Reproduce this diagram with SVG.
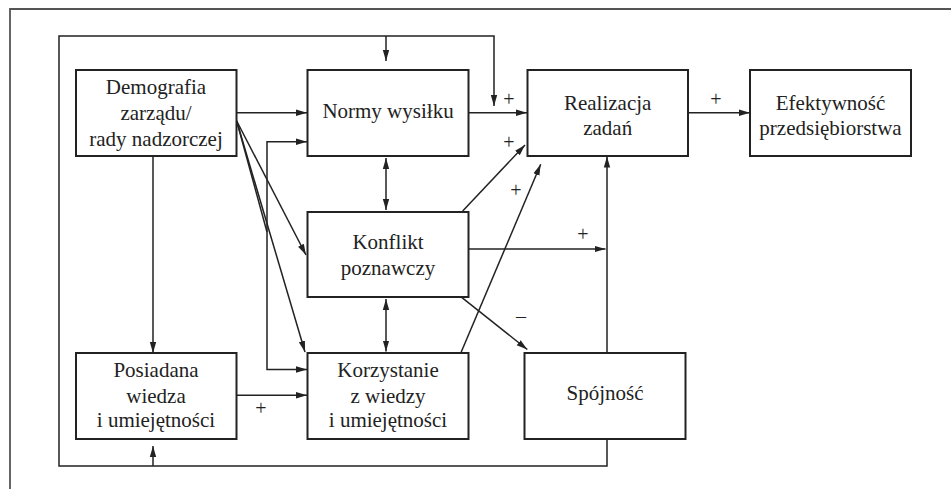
<svg xmlns="http://www.w3.org/2000/svg" width="951" height="489" viewBox="0 0 951 489">
<style>
.box{fill:#fff;stroke:#222;stroke-width:2}
.t{font-family:"Liberation Serif","DejaVu Serif",serif;font-size:21px;fill:#222;text-anchor:middle}
.s{font-family:"Liberation Serif","DejaVu Serif",serif;font-size:20px;fill:#222;text-anchor:middle}
.c{fill:none;stroke:#222;stroke-width:1.5}
.a{marker-end:url(#ah)}
.b{marker-start:url(#ahs);marker-end:url(#ah)}
</style>
<defs>
<marker id="ah" markerUnits="userSpaceOnUse" markerWidth="12" markerHeight="8" refX="11" refY="4" orient="auto">
<path d="M0,0.8 L11,4 L0,7.2 Z" fill="#222"/>
</marker>
<marker id="ahs" markerUnits="userSpaceOnUse" markerWidth="12" markerHeight="8" refX="0" refY="4" orient="auto">
<path d="M11,0.8 L0,4 L11,7.2 Z" fill="#222"/>
</marker>
</defs>
<rect width="951" height="489" fill="#fff"/>
<path d="M10,489 V9 H951" fill="none" stroke="#555" stroke-width="1.8"/>
<g id="connectors">
<path class="c a" d="M607,439 V466 H59 V36 H494 V106"/>
<path class="c a" d="M386,36 V61"/>
<path class="c a" d="M153,466 V446"/>
<path class="c a" d="M236,112.7 H307"/>
<path class="c a" d="M153,156 V353"/>
<path class="c a" d="M236.7,121 L306,255"/>
<path class="c a" d="M236.7,121 L305,352"/>
<path class="c" d="M236.7,121 L267,232"/>
<path class="c b" d="M307,141.7 H267 V369.5 H307"/>
<path class="c b" d="M386,158 V210"/>
<path class="c b" d="M386,299 V351.5"/>
<path class="c a" d="M468,112.7 H527"/>
<path class="c a" d="M688,112.7 H750"/>
<path class="c a" d="M462.7,211 L525,145"/>
<path class="c a" d="M460.7,353.3 L540.7,164.3"/>
<path class="c a" d="M468,249 H605.5"/>
<path class="c a" d="M461.7,297.3 L527.3,349.5"/>
<path class="c a" d="M607,353 V156.5"/>
<path class="c a" d="M236,395.3 H307"/>
<text class="s" x="509" y="106">+</text>
<text class="s" x="716" y="106">+</text>
<text class="s" x="509" y="149">+</text>
<text class="s" x="516" y="197">+</text>
<text class="s" x="583" y="241">+</text>
<text class="s" x="261" y="415">+</text>
<text class="s" x="521" y="323">–</text>
</g>
<g id="demografia">
<rect class="box" x="76" y="70" width="160.5" height="86"/>
<text class="t" x="156" y="94">Demografia</text>
<text class="t" x="156" y="120">zarządu/</text>
<text class="t" x="156" y="146">rady nadzorczej</text>
</g>
<g id="normy">
<rect class="box" x="307.5" y="70" width="161" height="86"/>
<text class="t" x="388" y="117.5">Normy wysiłku</text>
</g>
<g id="realizacja">
<rect class="box" x="527.5" y="70" width="160.5" height="86"/>
<text class="t" x="607.7" y="110">Realizacja</text>
<text class="t" x="607.7" y="135">zadań</text>
</g>
<g id="efektywnosc">
<rect class="box" x="750" y="70" width="161" height="86"/>
<text class="t" x="830.5" y="110">Efektywność</text>
<text class="t" x="830.5" y="135">przedsiębiorstwa</text>
</g>
<g id="konflikt">
<rect class="box" x="307.5" y="212" width="161" height="85"/>
<text class="t" x="388" y="249">Konflikt</text>
<text class="t" x="388" y="275">poznawczy</text>
</g>
<g id="posiadana">
<rect class="box" x="76" y="353" width="160.5" height="86"/>
<text class="t" x="156" y="377">Posiadana</text>
<text class="t" x="156" y="403">wiedza</text>
<text class="t" x="156" y="427">i umiejętności</text>
</g>
<g id="korzystanie">
<rect class="box" x="307.5" y="353" width="161" height="86"/>
<text class="t" x="388" y="377">Korzystanie</text>
<text class="t" x="388" y="403">z wiedzy</text>
<text class="t" x="388" y="427">i umiejętności</text>
</g>
<g id="spojnosc">
<rect class="box" x="524.5" y="353" width="161" height="86"/>
<text class="t" x="605" y="399.5">Spójność</text>
</g>
</svg>
